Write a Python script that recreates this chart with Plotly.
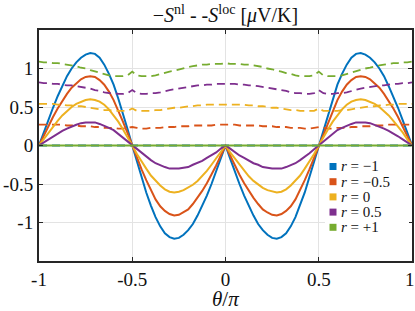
import numpy as np
import plotly.graph_objects as go

# theta / pi grid
theta = np.round(np.arange(-40, 41) / 40, 3).tolist()

r_labels = ["−1", "−0.5", "0", "0.5", "+1"]
colors = ["#0072BD", "#D95319", "#EDB120", "#7E2F8E", "#77AC30"]

# -S^nl (solid)
snl_m1 = [0, 0.17, 0.33, 0.49, 0.64, 0.77, 0.90, 1.00, 1.08, 1.14,
          1.18, 1.20, 1.19, 1.14, 1.05, 0.93, 0.79, 0.61, 0.42, 0.21,
          0, -0.21, -0.41, -0.61, -0.78, -0.93, -1.05, -1.14, -1.19, -1.21,
          -1.20, -1.16, -1.10, -1.02, -0.91, -0.79, -0.65, -0.50, -0.34, -0.17,
          0,
          -0.17, -0.34, -0.50, -0.65, -0.79, -0.91, -1.02, -1.10, -1.16, -1.20,
          -1.21, -1.19, -1.14, -1.05, -0.93, -0.78, -0.61, -0.41, -0.21, 0,
          0.21, 0.42, 0.61, 0.79, 0.93, 1.05, 1.14, 1.19, 1.20, 1.18,
          1.14, 1.08, 1.00, 0.90, 0.77, 0.64, 0.49, 0.33, 0.17, 0]
snl_m05 = [0, 0.13, 0.25, 0.37, 0.48, 0.58, 0.67, 0.75, 0.81, 0.86,
           0.89, 0.90, 0.89, 0.85, 0.79, 0.70, 0.59, 0.46, 0.31, 0.16,
           0, -0.16, -0.31, -0.45, -0.58, -0.70, -0.79, -0.85, -0.89, -0.91,
           -0.90, -0.87, -0.83, -0.76, -0.68, -0.59, -0.49, -0.38, -0.26, -0.13,
           0,
           -0.13, -0.26, -0.38, -0.49, -0.59, -0.68, -0.76, -0.83, -0.87, -0.90,
           -0.91, -0.89, -0.85, -0.79, -0.70, -0.58, -0.45, -0.31, -0.16, 0,
           0.16, 0.31, 0.46, 0.59, 0.70, 0.79, 0.85, 0.89, 0.90, 0.89,
           0.86, 0.81, 0.75, 0.67, 0.58, 0.48, 0.37, 0.25, 0.13, 0]
snl_0 = [0, 0.08, 0.17, 0.25, 0.32, 0.39, 0.45, 0.50, 0.54, 0.57,
         0.59, 0.60, 0.59, 0.57, 0.53, 0.47, 0.39, 0.31, 0.21, 0.11,
         0, -0.11, -0.21, -0.30, -0.39, -0.46, -0.52, -0.57, -0.60, -0.61,
         -0.60, -0.58, -0.55, -0.51, -0.46, -0.40, -0.33, -0.25, -0.17, -0.09,
         0,
         -0.09, -0.17, -0.25, -0.33, -0.40, -0.46, -0.51, -0.55, -0.58, -0.60,
         -0.61, -0.60, -0.57, -0.52, -0.46, -0.39, -0.30, -0.21, -0.11, 0,
         0.11, 0.21, 0.31, 0.39, 0.47, 0.53, 0.57, 0.59, 0.60, 0.59,
         0.57, 0.54, 0.50, 0.45, 0.39, 0.32, 0.25, 0.17, 0.08, 0]
snl_p05 = [0, 0.04, 0.08, 0.12, 0.16, 0.19, 0.22, 0.25, 0.27, 0.29,
           0.30, 0.30, 0.30, 0.28, 0.26, 0.23, 0.20, 0.15, 0.10, 0.05,
           0, -0.05, -0.10, -0.15, -0.19, -0.23, -0.26, -0.28, -0.30, -0.30,
           -0.30, -0.29, -0.28, -0.25, -0.23, -0.20, -0.16, -0.13, -0.09, -0.04,
           0,
           -0.04, -0.09, -0.13, -0.16, -0.20, -0.23, -0.25, -0.28, -0.29, -0.30,
           -0.30, -0.30, -0.28, -0.26, -0.23, -0.19, -0.15, -0.10, -0.05, 0,
           0.05, 0.10, 0.15, 0.20, 0.23, 0.26, 0.28, 0.30, 0.30, 0.30,
           0.29, 0.27, 0.25, 0.22, 0.19, 0.16, 0.12, 0.08, 0.04, 0]
snl_p1 = [0.0] * 81

# S^loc (dashed)
sloc_m1 = [0.0] * 81
sloc_m05 = [0.27, 0.27, 0.27, 0.27, 0.27, 0.27, 0.26, 0.26, 0.26, 0.25,
            0.25, 0.25, 0.24, 0.24, 0.23, 0.23, 0.23, 0.22, 0.22, 0.23,
            0.24, 0.23, 0.22, 0.22, 0.23, 0.23, 0.23, 0.24, 0.24, 0.24,
            0.25, 0.25, 0.25, 0.26, 0.26, 0.26, 0.26, 0.26, 0.27, 0.27,
            0.27,
            0.27, 0.27, 0.26, 0.26, 0.26, 0.26, 0.26, 0.25, 0.25, 0.25,
            0.24, 0.24, 0.24, 0.23, 0.23, 0.23, 0.22, 0.22, 0.23, 0.24,
            0.23, 0.22, 0.22, 0.23, 0.23, 0.23, 0.24, 0.24, 0.25, 0.25,
            0.25, 0.26, 0.26, 0.26, 0.27, 0.27, 0.27, 0.27, 0.27, 0.27]
sloc_0 = [0.54, 0.54, 0.54, 0.54, 0.53, 0.53, 0.52, 0.52, 0.51, 0.51,
          0.50, 0.49, 0.48, 0.47, 0.46, 0.46, 0.45, 0.45, 0.45, 0.45,
          0.48, 0.45, 0.45, 0.45, 0.45, 0.46, 0.46, 0.47, 0.48, 0.49,
          0.49, 0.50, 0.51, 0.51, 0.52, 0.52, 0.53, 0.53, 0.53, 0.53,
          0.53,
          0.53, 0.53, 0.53, 0.53, 0.52, 0.52, 0.51, 0.51, 0.50, 0.49,
          0.49, 0.48, 0.47, 0.46, 0.46, 0.45, 0.45, 0.45, 0.45, 0.48,
          0.45, 0.45, 0.45, 0.45, 0.46, 0.46, 0.47, 0.48, 0.49, 0.50,
          0.51, 0.51, 0.52, 0.52, 0.53, 0.53, 0.54, 0.54, 0.54, 0.54]
sloc_p05 = [0.82, 0.81, 0.81, 0.80, 0.80, 0.79, 0.78, 0.78, 0.77, 0.76,
            0.75, 0.74, 0.72, 0.71, 0.69, 0.68, 0.68, 0.67, 0.67, 0.68,
            0.72, 0.68, 0.67, 0.67, 0.68, 0.68, 0.69, 0.71, 0.72, 0.73,
            0.74, 0.75, 0.76, 0.77, 0.78, 0.78, 0.79, 0.79, 0.80, 0.80,
            0.80,
            0.80, 0.80, 0.79, 0.79, 0.78, 0.78, 0.77, 0.76, 0.75, 0.74,
            0.73, 0.72, 0.71, 0.69, 0.68, 0.68, 0.67, 0.67, 0.68, 0.72,
            0.68, 0.67, 0.67, 0.68, 0.68, 0.69, 0.71, 0.72, 0.74, 0.75,
            0.76, 0.77, 0.78, 0.78, 0.79, 0.80, 0.80, 0.81, 0.81, 0.82]
sloc_p1 = [1.09, 1.08, 1.08, 1.07, 1.07, 1.06, 1.05, 1.04, 1.03, 1.01,
           1.00, 0.98, 0.96, 0.95, 0.93, 0.91, 0.90, 0.90, 0.90, 0.91,
           0.96, 0.91, 0.90, 0.90, 0.90, 0.91, 0.93, 0.94, 0.96, 0.97,
           0.99, 1.00, 1.02, 1.03, 1.04, 1.05, 1.05, 1.06, 1.06, 1.06,
           1.07,
           1.06, 1.06, 1.06, 1.05, 1.05, 1.04, 1.03, 1.02, 1.00, 0.99,
           0.97, 0.96, 0.94, 0.93, 0.91, 0.90, 0.90, 0.90, 0.91, 0.96,
           0.91, 0.90, 0.90, 0.90, 0.91, 0.93, 0.95, 0.96, 0.98, 1.00,
           1.01, 1.03, 1.04, 1.05, 1.06, 1.07, 1.07, 1.08, 1.08, 1.09]

x_tickvals = [-1, -0.5, 0, 0.5, 1]
x_ticktext = ["-1", "-0.5", "0", "0.5", "1&nbsp;"]
y_tickvals = [-1, -0.5, 0, 0.5, 1]
y_ticktext = ["-1", "-0.5", "0", "0.5", "1"]

snl = [snl_m1, snl_m05, snl_0, snl_p05, snl_p1]
sloc = [sloc_m1, sloc_m05, sloc_0, sloc_p05, sloc_p1]

FONT = "Liberation Serif, Times New Roman, serif"
W, H = 415, 311
ML, MR, MT, MB = 39, 3, 30, 50

fig = go.Figure()
for i in range(5):
    fig.add_trace(go.Scatter(x=theta, y=sloc[i], mode="lines",
                             line=dict(color=colors[i], width=1.8, dash="8px,5px"),
                             showlegend=False, hoverinfo="skip"))
    fig.add_trace(go.Scatter(x=theta, y=snl[i], mode="lines",
                             line=dict(color=colors[i], width=2),
                             showlegend=False, hoverinfo="skip"))

pw = W - ML - MR
ph = H - MT - MB
def px2paper_x(px):
    return (px - ML) / pw
def px2paper_y(py):
    return (H - MB - py) / ph

shapes = [dict(type="rect", xref="paper", yref="paper",
               x0=px2paper_x(325), x1=px2paper_x(409),
               y0=px2paper_y(237), y1=px2paper_y(157),
               fillcolor="white", line=dict(width=0), layer="above")]
annotations = []
legend_y = [166.5, 181.7, 196.9, 212.1, 227.3]
for i in range(5):
    yc = legend_y[i]
    shapes.append(dict(type="rect", xref="paper", yref="paper",
                       x0=px2paper_x(329.5), x1=px2paper_x(336.5),
                       y0=px2paper_y(yc + 3.5), y1=px2paper_y(yc - 3.5),
                       fillcolor=colors[i], line=dict(width=0), layer="above"))
    annotations.append(dict(xref="paper", yref="paper",
                            x=px2paper_x(339), y=px2paper_y(yc),
                            xanchor="left", yanchor="middle", showarrow=False,
                            text="<i>r</i> = " + r_labels[i],
                            font=dict(family=FONT, size=15, color="#111")))

# x-axis title
annotations.append(dict(xref="paper", yref="paper",
                        x=px2paper_x(225.5), y=px2paper_y(299),
                        xanchor="center", yanchor="middle", showarrow=False,
                        text="<i>θ</i>/<i>π</i>",
                        font=dict(family=FONT, size=21, color="#111")))

fig.update_layout(
    width=W, height=H,
    margin=dict(l=ML, r=MR, t=MT, b=MB),
    paper_bgcolor="white", plot_bgcolor="white",
    font=dict(family=FONT, color="#1a1a1a"),
    title=dict(text="−<i>S</i><sup>nl</sup> - -<i>S</i><sup>loc</sup> [<i>μ</i>V/K]",
               x=(ML + (W - MR)) / 2 / W, xanchor="center",
               y=1 - 15 / H, yanchor="middle",
               font=dict(family=FONT, size=20, color="#111")),
    shapes=shapes,
    annotations=annotations,
    showlegend=False,
)
fig.update_xaxes(range=[-1, 1], tickvals=x_tickvals, ticktext=x_ticktext,
                 showgrid=True, gridcolor="#e3e3e3", gridwidth=1,
                 zeroline=False, showline=True, linecolor="#262626", linewidth=2,
                 mirror="ticks", ticks="inside", ticklen=4, tickcolor="#262626",
                 tickfont=dict(family=FONT, size=19, color="#111"),
                 ticklabeloverflow="allow", automargin=False)
fig.update_yaxes(range=[-1.5, 1.5], tickvals=y_tickvals, ticktext=y_ticktext,
                 showgrid=True, gridcolor="#e3e3e3", gridwidth=1,
                 zeroline=False, showline=True, linecolor="#262626", linewidth=2,
                 mirror="ticks", ticks="inside", ticklen=4, tickcolor="#262626",
                 tickfont=dict(family=FONT, size=19, color="#111"),
                 automargin=False)

fig.write_html("out.html",
               config={"displayModeBar": False},
               post_script="document.body.style.margin='0';"
                           "document.body.style.padding='0';"
                           "document.body.style.overflow='hidden';")
